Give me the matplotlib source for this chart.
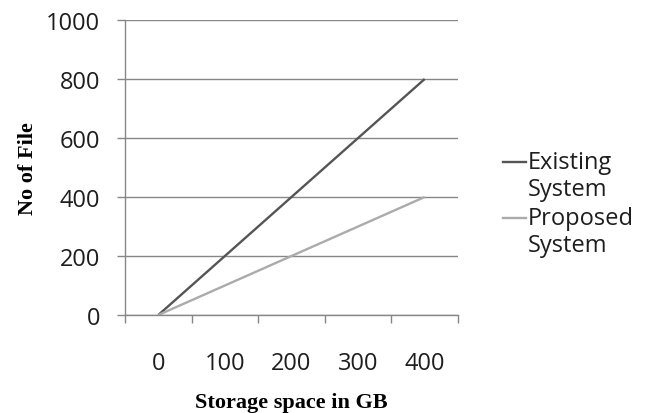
import matplotlib
matplotlib.use("Agg")
import matplotlib.pyplot as plt
from matplotlib.lines import Line2D

# Data
storage_gb = ["0", "100", "200", "300", "400"]
existing_system = [0, 200, 400, 600, 800]
proposed_system = [0, 100, 200, 300, 400]
y_ticks = [0, 200, 400, 600, 800, 1000]

SANS = "Open Sans"
SERIF = "Liberation Serif"
GRID = "#878787"
C_EXIST = "#555555"
C_PROP = "#ababab"
TXT = "#1e1e1e"

fig = plt.figure(figsize=(6.61, 4.14), dpi=100)
ax = fig.add_axes([125 / 661, 1 - 316 / 414, (458 - 125) / 661, (316 - 21) / 414])

x = list(range(len(storage_gb)))
ax.plot(x, existing_system, color=C_EXIST, lw=1.7, solid_capstyle="butt")
ax.plot(x, proposed_system, color=C_PROP, lw=1.7, solid_capstyle="butt")

ax.set_xlim(-0.5, len(storage_gb) - 0.5)
ax.set_ylim(0, 1000)

# Horizontal gridlines
ax.set_yticks(y_ticks)
ax.set_yticklabels([str(v) for v in y_ticks], fontsize=17, family=SANS, color=TXT)
ax.yaxis.grid(True, color=GRID, lw=1)
ax.set_axisbelow(True)
ax.tick_params(axis="y", length=6, width=1, color=GRID, pad=12)

# Category labels centred, tick marks on category boundaries
ax.set_xticks(x)
ax.set_xticklabels(storage_gb, fontsize=17, family=SANS, color=TXT)
ax.tick_params(axis="x", which="major", length=0, pad=26)
ax.set_xticks([i - 0.5 for i in range(len(storage_gb) + 1)], minor=True)
ax.tick_params(axis="x", which="minor", length=6, width=1, color=GRID)

for side in ("top", "right"):
    ax.spines[side].set_visible(False)
for side in ("left", "bottom"):
    ax.spines[side].set_color(GRID)
    ax.spines[side].set_linewidth(1)

ax.set_xlabel("Storage space in GB", family=SERIF, fontweight="bold", fontsize=16, labelpad=12)
ax.set_ylabel("No of File", family=SERIF, fontweight="bold", fontsize=16, labelpad=6)

# Legend drawn at the right of the plot
def legend_entry(y_line, color, lines):
    fig.add_artist(Line2D([503 / 661, 526 / 661], [1 - y_line / 414] * 2,
                          color=color, lw=1.7, transform=fig.transFigure))
    for i, txt in enumerate(lines):
        fig.text(528 / 661, 1 - (y_line + 27 * i) / 414, txt, family=SANS,
                 fontsize=17, color=TXT, va="center", ha="left")

legend_entry(163, C_EXIST, ["Existing", "System"])
legend_entry(219, C_PROP, ["Proposed", "System"])

fig.savefig("out.png", dpi=100)
